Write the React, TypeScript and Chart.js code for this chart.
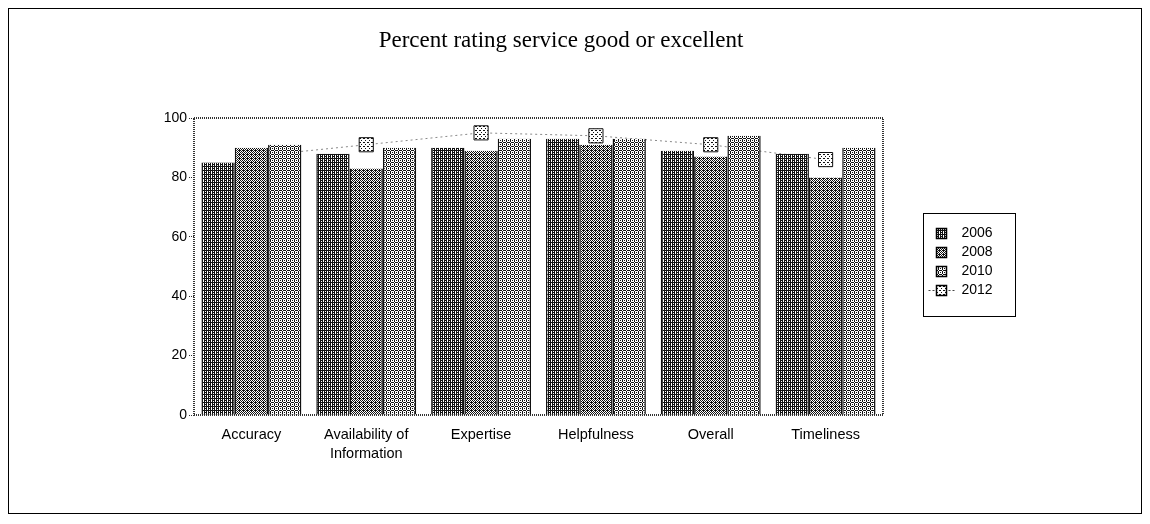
import React, { useEffect, useRef } from "react";
import { Chart, registerables } from "chart.js";
Chart.register(...registerables);

const categories = [["Accuracy"], ["Availability of", "Information"], ["Expertise"], ["Helpfulness"], ["Overall"], ["Timeliness"]];
const seriesLabels = ["2006", "2008", "2010", "2012"];
const values2006 = [85, 88, 90, 93, 89, 88];
const values2008 = [90, 83, 89, 91, 87, 80];
const values2010 = [91, 90, 93, 93, 94, 90];
const values2012 = [87, 91, 95, 94, 91, 86];
const yTicks = [0, 20, 40, 60, 80, 100];
const titleText = "Percent rating service good or excellent";

const tile2006 = ["###.", "#.#.", "####", "#.#."];
const tile2008 = ["#.#.", ".#.#", "#.##", ".#.#"];
const tile2010 = ["#.#.", "..#.", "##.#", "..#."];
const tile2012 = [".#..", "....", "#..#", "...."];

function makePattern(ctx: CanvasRenderingContext2D, tile: string[]) {
  const c = document.createElement("canvas");
  c.width = tile[0].length;
  c.height = tile.length;
  const t = c.getContext("2d")!;
  t.fillStyle = "#fff";
  t.fillRect(0, 0, c.width, c.height);
  t.fillStyle = "#111";
  tile.forEach((row, y) => {
    row.split("").forEach((ch, x) => {
      if (ch === "#") t.fillRect(x, y, 1, 1);
    });
  });
  return ctx.createPattern(c, "repeat") as CanvasPattern;
}

export default function App() {
  const ref = useRef<HTMLCanvasElement>(null);
  useEffect(() => {
    const canvas = ref.current!;
    const ctx0 = canvas.getContext("2d")!;
    const p2006 = makePattern(ctx0, tile2006);
    const p2008 = makePattern(ctx0, tile2008);
    const p2010 = makePattern(ctx0, tile2010);
    const p2012 = makePattern(ctx0, tile2012);
    const fills = [p2006, p2008, p2010, p2012];

    const framePlugin = {
      id: "frame",
      beforeDatasetsDraw(chart: any) {
        const { ctx, chartArea: a } = chart;
        ctx.save();
        ctx.strokeStyle = "#333";
        ctx.lineWidth = 2;
        ctx.setLineDash([1, 1]);
        ctx.strokeRect(a.left, a.top, a.right - a.left, a.bottom - a.top);
        ctx.restore();
      },
      afterDraw(chart: any) {
        const { ctx, width, height, chartArea: a } = chart;
        ctx.save();
        ctx.strokeStyle = "#000";
        ctx.lineWidth = 1;
        ctx.setLineDash([]);
        ctx.strokeRect(0.5, 0.5, width - 1, height - 1);
        // title
        ctx.font = "23px 'Liberation Serif', 'Times New Roman', serif";
        ctx.textAlign = "center";
        ctx.textBaseline = "middle";
        ctx.fillStyle = "#000";
        ctx.fillText(titleText, 553, 33);
        ctx.textAlign = "left";
        // legend
        const w = 92, h = 103;
        const x0 = Math.round(a.right + 40) + 0.5;
        const y0 = Math.round((a.top + a.bottom) / 2 - h / 2) - 1.5;
        ctx.strokeRect(x0, y0, w, h);
        ctx.font = "14px 'Liberation Sans', Arial, sans-serif";
        chart.data.datasets.forEach((ds: any, i: number) => {
          const cy = y0 + 20 + i * 19;
          const sx = x0 + 13;
          if (ds.type === "line") {
            ctx.save();
            ctx.strokeStyle = "#444";
            ctx.setLineDash([2, 2]);
            ctx.beginPath();
            ctx.moveTo(sx - 8, cy);
            ctx.lineTo(sx + 18, cy);
            ctx.stroke();
            ctx.restore();
          }
          ctx.fillStyle = fills[i];
          ctx.fillRect(sx, cy - 5, 10, 10);
          ctx.strokeStyle = "#000";
          ctx.lineWidth = 1.5;
          ctx.strokeRect(sx, cy - 5, 10, 10);
          ctx.lineWidth = 1;
          ctx.fillStyle = "#000";
          ctx.fillText(ds.label, x0 + 38, cy);
        });
        ctx.restore();
      },
    };

    const barBase = {
      borderColor: "#111",
      borderWidth: { left: 1.5, right: 1.5, top: 0, bottom: 0 },
      categoryPercentage: 0.87,
      barPercentage: 1.0,
    };

    const chart = new Chart(canvas, {
      type: "bar",
      data: {
        labels: categories as any,
        datasets: [
          { ...barBase, type: "bar", label: seriesLabels[0], data: values2006, backgroundColor: p2006, order: 1 } as any,
          { ...barBase, type: "bar", label: seriesLabels[1], data: values2008, backgroundColor: p2008, order: 2 } as any,
          { ...barBase, type: "bar", label: seriesLabels[2], data: values2010, backgroundColor: p2010, order: 3 } as any,
          {
            type: "line",
            label: seriesLabels[3],
            data: values2012,
            borderColor: "#888",
            borderWidth: 1,
            borderDash: [2, 3],
            pointStyle: "rect",
            pointRadius: 10,
            pointBackgroundColor: p2012,
            pointBorderColor: "#111",
            pointBorderWidth: 1,
            order: 4,
          } as any,
        ],
      },
      options: {
        animation: false,
        responsive: true,
        maintainAspectRatio: false,
        layout: { padding: { left: 136, right: 259, top: 110, bottom: 39 } },
        plugins: {
          legend: { display: false },
          tooltip: { enabled: false },
          title: { display: false },
        },
        scales: {
          x: {
            grid: { display: false },
            border: { display: false },
            ticks: {
              color: "#000",
              padding: 3,
              maxRotation: 0,
              autoSkip: false,
              font: { family: "'Liberation Sans', Arial, sans-serif", size: 14.5, lineHeight: 1.3 },
            },
            afterFit(scale: any) {
              scale.height = 60;
            },
          },
          y: {
            min: 0,
            max: 100,
            afterBuildTicks(scale: any) {
              scale.ticks = yTicks.map((v) => ({ value: v }));
            },
            grid: {
              drawOnChartArea: false,
              drawTicks: true,
              tickLength: 5,
              color: "#333",
              tickBorderDash: [1, 1],
            },
            border: { display: false },
            ticks: {
              color: "#000",
              padding: 2,
              font: { family: "'Liberation Sans', Arial, sans-serif", size: 14 },
            },
            afterFit(scale: any) {
              scale.width = 50;
            },
          },
        },
      },
      plugins: [framePlugin],
    });
    return () => chart.destroy();
  }, []);
  return (
    <div style={{ width: 1134, height: 506, position: "relative" }}>
      <canvas ref={ref} />
    </div>
  );
}
